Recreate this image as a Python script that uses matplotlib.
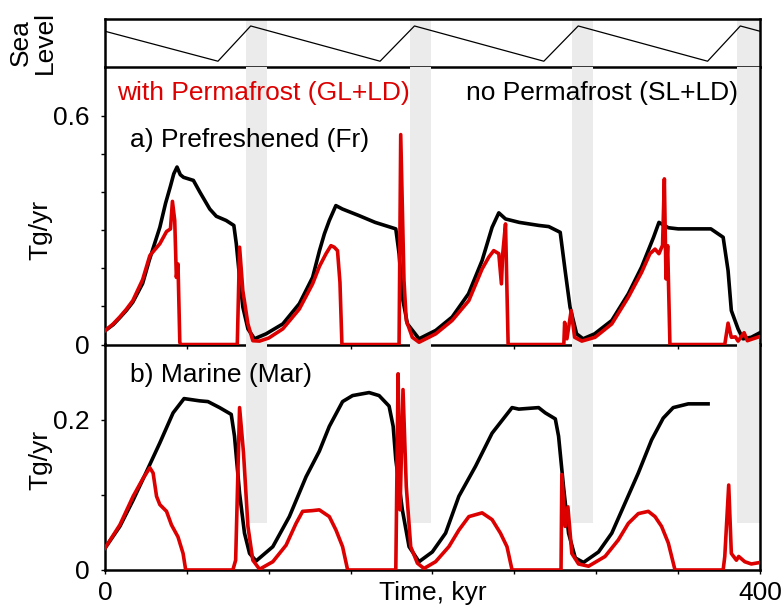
#!/usr/bin/env python3
"""
Methane release (Tg/yr) over four glacial cycles, with and without permafrost,
for the prefreshened and marine scenarios, under a sea level sawtooth.
"""

import matplotlib
matplotlib.use('Agg')
import matplotlib.pyplot as plt

RED = '#dc0000'
BAND = '#ebebeb'

# Sea level forcing (arbitrary units, 0 = highstand)
sl_t = [0, 69, 89, 168, 189, 268, 289, 368, 388, 400]
sl_v = [-18, -120, 0, -120, 0, -120, 0, -120, 0, -18]

# Interglacial bands, kyr
band_start = [86, 186, 285, 386]
band_end = [99, 199, 298, 400]

# a) Prefreshened, no permafrost (SL+LD)
fr_noperm_t = [0, 5, 9, 13, 17, 23, 27, 33.5, 37, 40, 42, 44, 46, 48, 54, 58, 64, 68,
               74, 78.7, 80.2, 82.2, 84.2, 87.3, 91.3, 98.4, 108.6, 118.7, 126.8, 131,
               134, 137, 141, 145, 155, 165, 177.6, 179.6, 181.6, 184.7, 191.8, 202,
               212, 222, 230.3, 236.4, 240.5, 244.6, 253, 265, 271, 278, 281, 284,
               288, 292, 299, 309.5, 319.6, 327.7, 335, 338.3, 344, 350, 370, 377.5,
               380.5, 382.5, 386.6, 389.6, 394.7, 400]
fr_noperm_v = [0.036, 0.052, 0.07, 0.089, 0.111, 0.16, 0.22, 0.307, 0.37, 0.415,
               0.447, 0.465, 0.445, 0.438, 0.43, 0.399, 0.355, 0.336, 0.325, 0.312,
               0.264, 0.176, 0.098, 0.041, 0.015, 0.028, 0.054, 0.107, 0.176, 0.246,
               0.29, 0.325, 0.364, 0.355, 0.338, 0.32, 0.303, 0.238, 0.124, 0.054,
               0.015, 0.037, 0.072, 0.133, 0.22, 0.307, 0.345, 0.329, 0.32, 0.312,
               0.309, 0.294, 0.194, 0.098, 0.028, 0.015, 0.028, 0.063, 0.133, 0.203,
               0.281, 0.32, 0.306, 0.303, 0.303, 0.281, 0.194, 0.089, 0.041, 0.015,
               0.019, 0.031]

# a) Prefreshened, with permafrost (GL+LD)
fr_perm_t = [0, 5, 9, 13, 17, 23, 27.4, 33.5, 37.6, 40, 41.2, 42.6, 43.6, 44.6, 45.7,
             46.2, 80.8, 82.2, 84.2, 87.3, 90.3, 94.4, 100, 108.6, 118.7, 126.8, 131,
             135, 138, 140, 142, 143.5, 144.7, 179.6, 180.6, 182.6, 184, 187.7, 191.8,
             202, 212, 222.2, 230.3, 234.4, 237.4, 240.5, 242.1, 242.9, 244.6, 246.2,
             280.2, 280.7, 282.1, 284.7, 286.8, 291.2, 299.3, 309.5, 319.6, 327.7,
             332.8, 335.9, 338.3, 340.5, 341.6, 342.6, 343.6, 345, 378.5, 380.5,
             382.5, 385, 386.6, 390.3, 392.3, 395.7, 400]
fr_perm_v = [0.036, 0.054, 0.072, 0.092, 0.115, 0.17, 0.233, 0.264, 0.296, 0.303,
             0.375, 0.325, 0.176, 0.211, 0.006, 0, 0, 0.255, 0.141, 0.054, 0.01,
             0.009, 0.017, 0.041, 0.093, 0.159, 0.205, 0.238, 0.259, 0.255, 0.246,
             0.163, 0, 0, 0.55, 0.168, 0.063, 0.019, 0.006, 0.028, 0.063, 0.115,
             0.198, 0.229, 0.246, 0.238, 0.159, 0.238, 0.316, 0, 0, 0.058, 0.015,
             0.089, 0.019, 0.009, 0.019, 0.054, 0.124, 0.189, 0.238, 0.25, 0.238,
             0.26, 0.434, 0.172, 0.259, 0, 0, 0.056, 0.019, 0.02, 0.009, 0.031, 0.01,
             0.015, 0.021]

# b) Marine, no permafrost (SL+LD)
mar_noperm_t = [0, 9.1, 17.2, 25.4, 33.5, 41.6, 48.3, 57.8, 62.9, 70, 77.1, 79.1,
                82.2, 85.2, 88.3, 92.3, 102.5, 112.6, 122.8, 130.9, 137, 145.1, 151.2,
                161.3, 167.4, 173.5, 176, 177.6, 181.6, 185.7, 191.8, 199.9, 208,
                216.1, 226.3, 236.4, 248.6, 252.7, 264.8, 268.9, 275, 277, 280, 283.1,
                287.2, 292.2, 301.4, 309.5, 317.6, 325.7, 333.8, 340.9, 347, 356.2,
                368.3]
mar_noperm_v = [0.029, 0.058, 0.093, 0.131, 0.169, 0.209, 0.228, 0.225, 0.224,
                0.216, 0.207, 0.178, 0.102, 0.049, 0.022, 0.012, 0.031, 0.071, 0.124,
                0.158, 0.191, 0.224, 0.232, 0.236, 0.232, 0.218, 0.191, 0.147, 0.08,
                0.031, 0.011, 0.024, 0.049, 0.098, 0.138, 0.182, 0.216, 0.214, 0.216,
                0.209, 0.201, 0.178, 0.111, 0.049, 0.016, 0.01, 0.024, 0.049, 0.089,
                0.129, 0.173, 0.202, 0.216, 0.221, 0.221]

# b) Marine, with permafrost (GL+LD)
mar_perm_t = [0, 9.1, 17.2, 23.3, 27.4, 29.4, 31.5, 33.5, 37.6, 40.6, 44.6, 47.7,
              49.3, 78.1, 79.8, 82.2, 84.6, 87.3, 90.3, 94.4, 102.5, 110.6, 116.7,
              120.7, 126.8, 130.9, 137, 141.1, 145.1, 148.2, 177.6, 179, 180.2, 182,
              184, 186.7, 190.8, 194.8, 201.9, 210, 216.1, 222.2, 230.3, 236.4, 241.5,
              245.5, 248.6, 278.5, 279, 281, 282.7, 285.1, 289.2, 295.3, 305.4, 313.5,
              319.6, 325.7, 331.8, 335.9, 339.9, 344, 348.1, 377.5, 378.5, 380.9,
              382.5, 385.6, 387, 390.7, 394.7, 400]
mar_perm_v = [0.029, 0.06, 0.098, 0.122, 0.136, 0.129, 0.098, 0.087, 0.078, 0.06,
              0.044, 0.022, 0, 0, 0.013, 0.216, 0.156, 0.058, 0.013, 0.001, 0.011,
              0.033, 0.062, 0.078, 0.079, 0.08, 0.071, 0.053, 0.031, 0, 0, 0.261,
              0.08, 0.24, 0.111, 0.031, 0.009, 0.002, 0.011, 0.031, 0.053, 0.071,
              0.076, 0.067, 0.049, 0.031, 0, 0, 0.127, 0.058, 0.084, 0.022, 0.008,
              0.005, 0.018, 0.04, 0.062, 0.075, 0.078, 0.071, 0.058, 0.036, 0, 0,
              0.018, 0.113, 0.022, 0.013, 0.018, 0.011, 0.008, 0.01]

FONT = 19
LW = 2.6


def style_axis(ax):
    for s in ax.spines.values():
        s.set_linewidth(1.8)
    ax.tick_params(direction='out', length=3, width=1, labelsize=FONT)
    ax.set_xlim(0, 400)
    # transparent background so neighbouring panels' spines stay visible
    ax.patch.set_visible(False)


def main():
    plt.rcParams['font.family'] = ['Liberation Sans', 'DejaVu Sans']

    fig = plt.figure(figsize=(7.81, 6.10), dpi=100)
    left, width = 0.1344, 0.8387
    ax_sl = fig.add_axes([left, 0.890, width, 0.079])
    ax_a = fig.add_axes([left, 0.4352, width, 0.4549])
    ax_b = fig.add_axes([left, 0.0656, width, 0.3697])

    # Sea level sawtooth
    style_axis(ax_sl)
    for s0, s1 in zip(band_start, band_end):
        ax_sl.axvspan(s0, s1, color=BAND, lw=0, zorder=0)
    ax_sl.plot(sl_t, sl_v, color='black', lw=0.9)
    ax_sl.set_ylim(-140, 24)
    ax_sl.set_xticks([])
    ax_sl.set_yticks([])
    fig.text(33 / 781, 1 - 43 / 610, 'Sea\nLevel', rotation=90, ha='center',
             va='center', multialignment='center', fontsize=FONT, linespacing=1.0)

    # a) Prefreshened
    style_axis(ax_a)
    ax_a.spines['top'].set_visible(False)
    for s0, s1 in zip(band_start, band_end):
        ax_a.axvspan(s0, s1, color=BAND, lw=0, zorder=0)
    ax_a.plot(fr_noperm_t, fr_noperm_v, color='black', lw=LW, zorder=2)
    ax_a.plot(fr_perm_t, fr_perm_v, color=RED, lw=LW, zorder=3)
    ax_a.set_ylim(0, 0.727)
    ax_a.set_yticks([0, 0.1, 0.2, 0.3, 0.4, 0.5, 0.6])
    ax_a.set_yticklabels(['0', '', '', '', '', '', '0.6'])
    ax_a.set_xticks([50, 150, 250, 350])
    ax_a.set_xticklabels([])
    ax_a.tick_params(axis='y', pad=8)
    ax_a.text(-0.098, 0.413, 'Tg/yr', transform=ax_a.transAxes, rotation=90,
              ha='center', va='center', fontsize=FONT)
    ax_a.text(0.018, 0.881, 'with Permafrost (GL+LD)', transform=ax_a.transAxes,
              color=RED, fontsize=FONT, va='baseline')
    ax_a.text(0.967, 0.881, 'no Permafrost (SL+LD)', transform=ax_a.transAxes,
              color='black', fontsize=FONT, ha='right', va='baseline')
    ax_a.text(0.038, 0.712, 'a) Prefreshened (Fr)', transform=ax_a.transAxes,
              fontsize=FONT, va='baseline')

    # b) Marine
    style_axis(ax_b)
    ax_b.spines['top'].set_visible(False)
    for s0, s1 in zip(band_start, band_end):
        ax_b.axvspan(s0, s1, ymin=0.208, ymax=1, color=BAND, lw=0, zorder=0)
    ax_b.plot(mar_noperm_t, mar_noperm_v, color='black', lw=LW, zorder=2)
    ax_b.plot(mar_perm_t, mar_perm_v, color=RED, lw=LW, zorder=3)
    ax_b.set_ylim(0, 0.3)
    ax_b.set_yticks([0, 0.1, 0.2])
    ax_b.set_yticklabels(['0', '', '0.2'])
    ax_b.tick_params(axis='y', pad=8)
    ax_b.set_xticks([0, 50, 100, 150, 200, 250, 300, 350, 400])
    ax_b.set_xticklabels(['0', '', '', '', 'Time, kyr', '', '', '', '400'])
    ax_b.tick_params(axis='x', pad=5)
    ax_b.text(-0.098, 0.488, 'Tg/yr', transform=ax_b.transAxes, rotation=90,
              ha='center', va='center', fontsize=FONT)
    ax_b.text(0.038, 0.835, 'b) Marine (Mar)', transform=ax_b.transAxes,
              fontsize=FONT, va='baseline')

    fig.savefig('out.png', dpi=100)


if __name__ == '__main__':
    main()
